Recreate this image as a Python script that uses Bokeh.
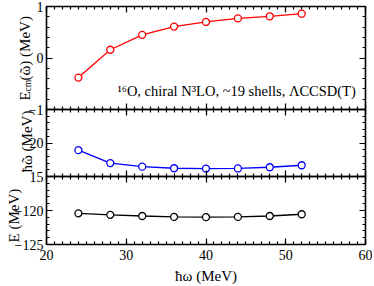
import math
from bokeh.plotting import figure
from bokeh.layouts import column, row
from bokeh.models import Range1d, FixedTicker, LinearAxis, Label
from bokeh.embed import file_html
from bokeh.resources import INLINE

# ---- data ----
hw = [24, 28, 32, 36, 40, 44, 48, 52]
ecm = [-0.38, 0.16, 0.45, 0.61, 0.70, 0.77, 0.81, 0.86]
hw_tilde = [18.93, 17.0, 16.47, 16.23, 16.18, 16.20, 16.38, 16.68]
energy = [-120.42, -120.64, -120.81, -120.94, -120.98, -120.94, -120.81, -120.55]

x_major = [20, 30, 40, 50, 60]
x_minor = list(range(20, 61))
top_major = [-1, 0, 1]
top_minor = [round(-1 + 0.2 * i, 1) for i in range(11)]
mid_major = [15, 20, 25]
mid_minor = list(range(15, 26))
bot_major = [-125, -120, -115]
bot_minor = list(range(-125, -114))

FONT = "Liberation Serif"
W = 372
H = 286
LEFT = 46


def style_axis(ax, labels, hidden=(), standoff=3):
    ax.axis_line_color = None
    ax.major_tick_in = 6
    ax.major_tick_out = 0
    ax.minor_tick_in = 3
    ax.minor_tick_out = 0
    ax.major_tick_line_width = 1.2
    ax.minor_tick_line_width = 1.2
    ax.major_tick_line_color = "black"
    ax.minor_tick_line_color = "black"
    if labels:
        ax.major_label_text_font = FONT
        ax.major_label_text_font_size = "14px"
        ax.major_label_text_color = "black"
        ax.major_label_standoff = standoff
        if hidden:
            ax.major_label_overrides = {h: "" for h in hidden}
    else:
        ax.major_label_text_font_size = "0px"
        ax.major_label_standoff = 0
        ax.major_label_overrides = {t: "" for t in ax.ticker.ticks}


def make_fig(height, yr, ymaj, ymin, hidden, bt, bb, xlabels):
    p = figure(width=W, height=height, x_range=Range1d(20, 60), y_range=Range1d(*yr),
               output_backend="svg", toolbar_location=None,
               x_axis_location=None, y_axis_location=None,
               min_border_left=LEFT, min_border_right=7,
               min_border_top=bt, min_border_bottom=bb)
    p.grid.visible = False
    p.outline_line_color = "black"
    p.outline_line_width = 1.6
    p.background_fill_color = None
    p.border_fill_color = None
    for side in ("left", "right"):
        ax = LinearAxis(ticker=FixedTicker(ticks=ymaj, minor_ticks=ymin))
        style_axis(ax, side == "left", hidden)
        p.add_layout(ax, side)
    for side in ("below", "above"):
        ax = LinearAxis(ticker=FixedTicker(ticks=x_major, minor_ticks=x_minor))
        style_axis(ax, side == "below" and xlabels, standoff=5)
        p.add_layout(ax, side)
    return p


def series(p, y, color):
    p.line(hw, y, line_color=color, line_width=1.3)
    p.scatter(hw, y, marker="circle", size=7, fill_color="white",
              line_color=color, line_width=1.3)


# top panel
p1 = make_fig(6 + 103 + 10, (-1, 1), top_major, top_minor, (), 6, 10, False)
series(p1, ecm, "#ff0000")
p1.add_layout(Label(x=71, y=19, x_units="screen", y_units="screen",
                    text="\u00b9\u2076O, chiral N\u00b3LO, ~19 shells, \u039bCCSD(T)",
                    text_font=FONT, text_font_size="14.5px", text_color="black",
                    text_align="left", text_baseline="alphabetic"))

# middle panel
p2 = make_fig(10 + 67 + 10, (15, 25), mid_major, mid_minor, (25,), 10, 10, False)
series(p2, hw_tilde, "#0000ff")

# bottom panel
p3 = make_fig(10 + 78 + 32, (-125, -115), bot_major, bot_minor, (-115,), 10, 32, True)
series(p3, energy, "#000000")
xa = p3.below[0]
xa.axis_label = "\u0127\u03c9 (MeV)"
xa.axis_label_text_font = FONT
xa.axis_label_text_font_size = "15px"
xa.axis_label_text_font_style = "normal"
xa.axis_label_text_color = "black"
xa.axis_label_standoff = 5

p2.margin = (-20, 0, 0, 0)
p3.margin = (-20, 0, 0, 0)
panels = column(p1, p2, p3, spacing=0)
panels.margin = (0, 0, 0, -LEFT)

# strip that carries the vertical axis titles (page-like pixel coordinates)
lab = figure(width=LEFT, height=H, x_range=Range1d(0, LEFT), y_range=Range1d(H, 0),
             output_backend="svg", toolbar_location=None,
             x_axis_location=None, y_axis_location=None,
             min_border=0, min_border_left=0, min_border_right=0,
             min_border_top=0, min_border_bottom=0)
lab.grid.visible = False
lab.outline_line_color = None
lab.background_fill_color = None
lab.border_fill_color = None


def vlabel(x, y, text, size="15px"):
    lab.add_layout(Label(x=x, y=y, text=text, angle=math.pi / 2,
                         text_font=FONT, text_font_size=size,
                         text_align="left", text_baseline="alphabetic",
                         text_color="black"))


vlabel(24, 100, "E")
vlabel(27, 91, "cm", "9.5px")
vlabel(24, 80, "(\u1ff6) (MeV)")
vlabel(26, 172, "\u0127\u1ff6 (MeV)")
vlabel(13, 242, "E (MeV)")

layout = row(lab, panels, spacing=0)
layout.margin = (0, 0, 0, 0)

open("out.html", "w").write(file_html(layout, INLINE))
